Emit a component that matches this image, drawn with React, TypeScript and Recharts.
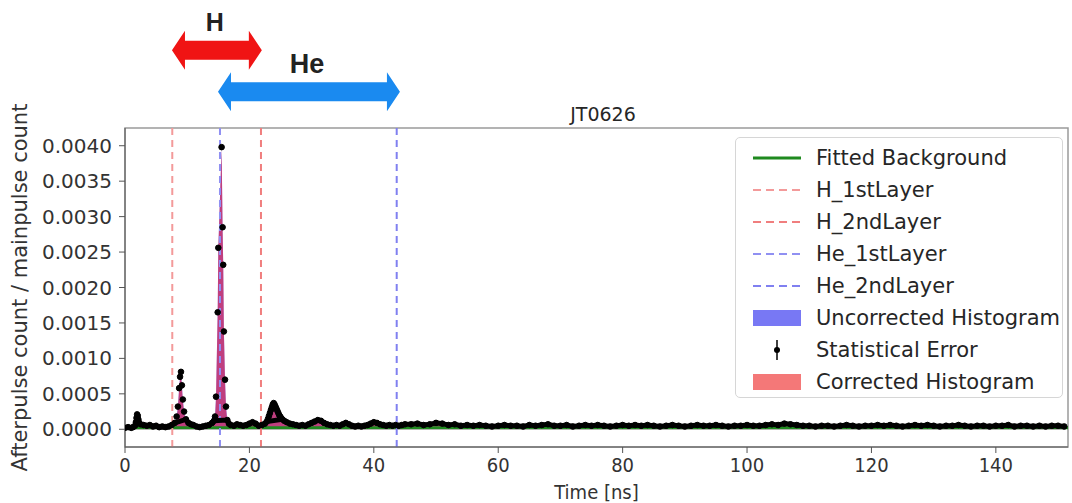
import React from "react";
import {
  Area,
  ComposedChart,
  Legend,
  Line,
  ReferenceArea,
  ReferenceLine,
  XAxis,
  YAxis,
} from "recharts";

// [time ns, afterpulse / mainpulse]
const PROMPT_BINS: [number, number][] = [
  [0, 0.00002], [0.5, 0.00003], [1.0, 0.00002], [1.3, 0.00003], [1.6, 0.00005],
  [1.75, 0.0001], [1.85, 0.00016], [1.95, 0.00021], [2.05, 0.00019], [2.15, 0.00014],
  [2.3, 0.00009], [2.5, 0.00007], [3.0, 0.00006], [3.5, 0.00005], [4.0, 0.00006],
  [4.5, 0.00004], [5.0, 0.00005], [5.5, 0.00003], [6.0, 0.00004], [6.5, 0.00003],
  [7.0, 0.00004], [7.5, 0.00006], [8.0, 0.00009], [8.3, 0.00018], [8.5, 0.00032],
  [8.7, 0.00058], [8.85, 0.00074], [9.0, 0.00081], [9.15, 0.00062], [9.3, 0.00042],
  [9.5, 0.00025], [9.8, 0.00014], [10.2, 0.00009], [10.6, 0.00007], [11.0, 0.00006],
  [11.5, 0.00004], [12.0, 0.00003], [12.5, 0.00004], [13.0, 0.00005], [13.5, 0.00006],
  [14.0, 0.00009],
];

const HE_PEAK_BINS: [number, number][] = [
  [14.3, 0.00012], [14.47, 0.00018], [14.63, 0.00046], [14.9, 0.00165], [15.0, 0.00256],
  [15.53, 0.00398], [15.69, 0.00285], [15.79, 0.00232], [15.9, 0.00138], [16.08, 0.0007],
  [16.24, 0.00032], [16.45, 0.00013], [16.7, 0.00008], [17.0, 0.00006], [17.5, 0.00005],
  [18.0, 0.00007], [18.5, 0.00006], [19.0, 0.00005], [19.5, 0.00006], [20.0, 0.00008],
  [20.5, 0.0001], [21.0, 0.00008], [21.5, 0.00005], [22.0, 0.00006], [22.5, 0.00008],
  [22.8, 0.00011], [23.0, 0.00015], [23.15, 0.00019], [23.3, 0.00023], [23.45, 0.00027],
  [23.6, 0.00031], [23.75, 0.00035], [23.9, 0.00037], [24.05, 0.00035], [24.2, 0.00032],
  [24.35, 0.00029], [24.5, 0.00026], [24.65, 0.00023], [24.8, 0.0002], [24.95, 0.00018],
  [25.1, 0.00016], [25.3, 0.00014], [25.6, 0.00012], [26.0, 0.0001],
];

const TAIL_BINS: [number, number][] = [
  [26.5, 0.00008], [27.0, 0.00007], [27.5, 0.00006], [28.0, 0.00005], [28.5, 0.00006],
  [29.0, 0.00005], [29.5, 0.00007], [30.0, 0.00009], [30.5, 0.00011], [31.0, 0.00013],
  [31.5, 0.00012], [32.0, 0.00009], [32.5, 0.00007], [33.0, 0.00006], [33.5, 0.00005],
  [34.0, 0.00006], [34.5, 0.00005], [35.0, 0.00007], [35.5, 0.00009], [36.0, 0.00007],
  [36.5, 0.00005], [37.0, 0.00004], [37.5, 0.00005], [38.0, 0.00004], [38.5, 0.00005],
  [39.0, 0.00006], [39.5, 0.00008], [40.0, 0.0001], [40.5, 0.00009], [41.0, 0.00007],
  [41.5, 0.00006], [42.0, 0.00005], [42.5, 0.00006], [43.0, 0.00005], [43.5, 0.00006],
  [44.0, 0.00005], [44.5, 0.00006], [45.0, 0.00007],
];

// 1 ns bins from 46 ns on
const FLAT_START_NS = 46;
const FLAT_COUNTS = [
  0.00007, 0.00008, 0.00006, 0.00007, 0.00009, 0.00008, 0.00006, 0.00007, 0.00005, 0.00006,
  0.00005, 0.00006, 0.00005, 0.00004, 0.00005, 0.00006, 0.00005, 0.00005, 0.00004, 0.00006,
  0.00005, 0.00006, 0.00007, 0.00005, 0.00005, 0.00006, 0.00004, 0.00005, 0.00006, 0.00005,
  0.00006, 0.00005, 0.00004, 0.00005, 0.00006, 0.00005, 0.00006, 0.00005, 0.00006, 0.00005,
  0.00004, 0.00005, 0.00006, 0.00005, 0.00004, 0.00005, 0.00006, 0.00005, 0.00005, 0.00006,
  0.00005, 0.00004, 0.00005, 0.00005, 0.00006, 0.00005, 0.00005, 0.00006, 0.00007, 0.00006,
  0.00008, 0.00007, 0.00006, 0.00005, 0.00005, 0.00004, 0.00005, 0.00005, 0.00004, 0.00005,
  0.00006, 0.00005, 0.00004, 0.00005, 0.00005, 0.00006, 0.00005, 0.00006, 0.00005, 0.00004,
  0.00005, 0.00006, 0.00005, 0.00006, 0.00005, 0.00004, 0.00005, 0.00005, 0.00006, 0.00005,
  0.00004, 0.00005, 0.00005, 0.00004, 0.00005, 0.00005, 0.00006, 0.00004, 0.00005, 0.00005,
  0.00004, 0.00005, 0.00004, 0.00005, 0.00005, 0.00004,
];

const BACKGROUND_LEVEL = 0.00002;

const LAYERS = [
  { name: "H_1stLayer", t: 7.6, color: "#f39a9a" },
  { name: "H_2ndLayer", t: 21.86, color: "#f07e7e" },
  { name: "He_1stLayer", t: 15.27, color: "#9090f2" },
  { name: "He_2ndLayer", t: 43.68, color: "#8080f0" },
];

const ARROWS = [
  { label: "H", from: 7.55, to: 22.0, level: 0.005346, color: "#f01414" },
  { label: "He", from: 14.95, to: 44.2, level: 0.00476, color: "#1a8af0" },
];

const X_MAX = 151.6;
const Y_MIN = -0.00025;
const Y_MAX = 0.00425;
const X_TICKS = [0, 20, 40, 60, 80, 100, 120, 140];
const Y_TICKS = [0, 0.0005, 0.001, 0.0015, 0.002, 0.0025, 0.003, 0.0035, 0.004];

const FONT = "'DejaVu Sans', 'Noto Sans', sans-serif";
const NARROW_FONT = "'DejaVu Sans Condensed', 'DejaVu Sans', sans-serif";

const rows = [
  ...PROMPT_BINS,
  ...HE_PEAK_BINS,
  ...TAIL_BINS,
  ...FLAT_COUNTS.map((v, i) => [FLAT_START_NS + i, v] as [number, number]),
].map(([t, v]) => ({
  t,
  uncorrected: v,
  corrected: Math.max(0, v - BACKGROUND_LEVEL),
  signal: v,
}));

// dense low bins read as a thick trace
const baseTrace = rows.filter((r) => r.signal < 0.00015);
const background = [
  { t: 0, bg: BACKGROUND_LEVEL },
  { t: X_MAX, bg: BACKGROUND_LEVEL },
];

function arrowShape(label: string, color: string, size: number) {
  return (props: any) => {
    const { x1, x2, y1 } = props;
    const head = 13;
    const half = 19.5;
    const shaft = 9.5;
    const y = y1;
    const pts = [
      [x1, y], [x1 + head, y - half], [x1 + head, y - shaft], [x2 - head, y - shaft],
      [x2 - head, y - half], [x2, y], [x2 - head, y + half], [x2 - head, y + shaft],
      [x1 + head, y + shaft], [x1 + head, y + half],
    ];
    return (
      <g>
        <polygon points={pts.map((p) => p.join(",")).join(" ")} fill={color} />
        <text
          x={(x1 + x2) / 2 - 2}
          y={y - 28}
          textAnchor="middle"
          dominantBaseline="central"
          fontFamily="'Liberation Sans', Arial, sans-serif"
          fontWeight="bold"
          fontSize={size}
          fill="#222"
        >
          {label}
        </text>
      </g>
    );
  };
}

function LegendBox() {
  const rowY = (i: number) => 20 + i * 32;
  return (
    <div
      style={{
        width: 328,
        height: 261,
        border: "1px solid #d6d6d6",
        borderRadius: 5,
        background: "rgba(255,255,255,0.85)",
        boxSizing: "border-box",
      }}
    >
      <svg width={326} height={259} style={{ display: "block" }}>
        <line x1={17} x2={65} y1={rowY(0)} y2={rowY(0)} stroke="#1f8a1f" strokeWidth={3} />
        {LAYERS.map((l, i) => (
          <line
            key={l.name}
            x1={17}
            x2={65}
            y1={rowY(i + 1)}
            y2={rowY(i + 1)}
            stroke={l.color}
            strokeWidth={2}
            strokeDasharray="8 5"
          />
        ))}
        <rect x={17} y={rowY(5) - 8} width={48} height={16} fill="#7878f4" />
        <line x1={41} x2={41} y1={rowY(6) - 10} y2={rowY(6) + 10} stroke="#000" strokeWidth={1.5} />
        <circle cx={41} cy={rowY(6)} r={3} fill="#000" />
        <rect x={17} y={rowY(7) - 8} width={48} height={16} fill="#f47878" />
        {[
          "Fitted Background",
          ...LAYERS.map((l) => l.name),
          "Uncorrected Histogram",
          "Statistical Error",
          "Corrected Histogram",
        ].map((name, i) => (
          <text
            key={name}
            x={80}
            y={rowY(i)}
            dominantBaseline="central"
            fontFamily={FONT}
            fontSize={21}
            fill="#262626"
          >
            {name}
          </text>
        ))}
      </svg>
    </div>
  );
}

export default function App() {
  return (
    <div style={{ position: "absolute", left: 0, top: 0, width: 1072, height: 503, background: "#fff" }}>
      <div
        style={{
          position: "absolute",
          left: 503,
          top: 103,
          width: 200,
          textAlign: "center",
          fontFamily: FONT,
          fontSize: 19,
          color: "#262626",
        }}
      >
        JT0626
      </div>
      <ComposedChart
        width={1072}
        height={503}
        data={rows}
        margin={{ top: 128, right: 4, bottom: 0, left: 0 }}
      >
        <XAxis
          dataKey="t"
          type="number"
          domain={[0, X_MAX]}
          ticks={X_TICKS}
          allowDataOverflow
          height={56}
          tickSize={6}
          tickMargin={5}
          stroke="#555"
          tick={{ fontFamily: NARROW_FONT, fontSize: 20, fill: "#333" }}
          label={(p: any) => (
            <text
              x={p.viewBox.x + p.viewBox.width / 2}
              y={492}
              textAnchor="middle"
              dominantBaseline="central"
              fontFamily={NARROW_FONT}
              fontSize={20}
              fill="#333"
            >
              Time [ns]
            </text>
          )}
        />
        <YAxis
          type="number"
          domain={[Y_MIN, Y_MAX]}
          ticks={Y_TICKS}
          allowDataOverflow
          width={125}
          tickSize={6}
          tickMargin={7}
          stroke="#555"
          tickFormatter={(v: number) => v.toFixed(4)}
          tick={{ fontFamily: FONT, fontSize: 20, fill: "#333" }}
          label={(p: any) => {
            const cy = p.viewBox.y + p.viewBox.height / 2;
            return (
              <text
                x={20}
                y={cy}
                transform={`rotate(-90, 20, ${cy})`}
                textAnchor="middle"
                dominantBaseline="central"
                fontFamily={FONT}
                fontSize={21}
                fill="#333"
              >
                Afterpulse count / mainpulse count
              </text>
            );
          }}
        />
        <ReferenceArea
          x1={0}
          x2={X_MAX}
          y1={Y_MIN}
          y2={Y_MAX}
          fill="none"
          stroke="#9a9a9a"
          strokeWidth={1.5}
        />
        <Area
          type="linear"
          dataKey="uncorrected"
          stroke="none"
          fill="#0000ff"
          fillOpacity={0.5}
          isAnimationActive={false}
        />
        <Area
          type="linear"
          dataKey="corrected"
          stroke="none"
          fill="#ff0000"
          fillOpacity={0.5}
          isAnimationActive={false}
        />
        <Line
          data={background}
          dataKey="bg"
          stroke="#1f8a1f"
          strokeWidth={3}
          dot={false}
          isAnimationActive={false}
        />
        {LAYERS.map((l) => (
          <ReferenceLine
            key={l.name}
            x={l.t}
            stroke={l.color}
            strokeWidth={2}
            strokeDasharray="7 5"
          />
        ))}
        <Line
          data={baseTrace}
          dataKey="signal"
          stroke="#000"
          strokeWidth={5}
          dot={false}
          isAnimationActive={false}
        />
        <Line
          dataKey="signal"
          stroke="none"
          dot={{ r: 2.8, fill: "#000", stroke: "#000", strokeWidth: 1 }}
          isAnimationActive={false}
        />
        {ARROWS.map((a, i) => (
          <ReferenceLine
            key={a.label}
            segment={[
              { x: a.from, y: a.level },
              { x: a.to, y: a.level },
            ]}
            ifOverflow="visible"
            shape={arrowShape(a.label, a.color, i === 0 ? 25 : 27)}
          />
        ))}
        <Legend
          layout="vertical"
          align="center"
          verticalAlign="middle"
          content={() => <LegendBox />}
          wrapperStyle={{ position: "absolute", left: 735, top: 137, width: 328, height: 261 }}
        />
      </ComposedChart>
    </div>
  );
}
